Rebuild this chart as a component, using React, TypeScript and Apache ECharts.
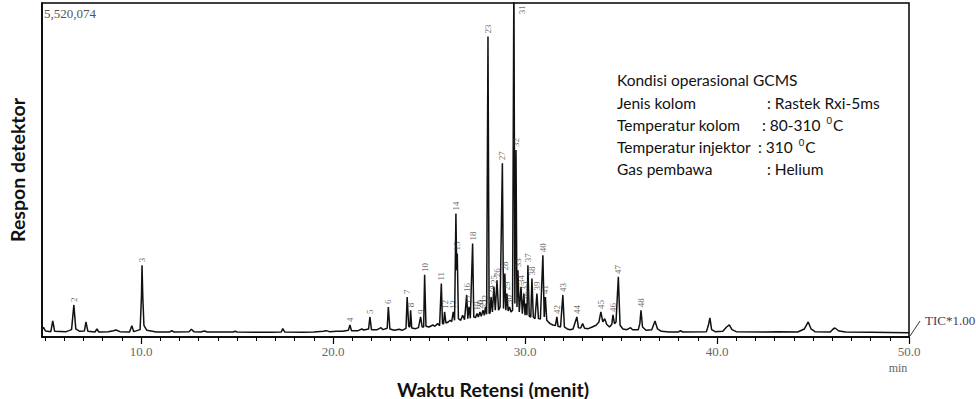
import React, { useEffect, useRef } from 'react';
import * as echarts from 'echarts';

// ---------- data ----------
const fullScaleCounts = '5,520,074';
const xMin = 4.84;
const xMax = 50;
const majorTicks = [10, 20, 30, 40, 50];
const minorTicks = [5, 6, 7, 8, 9, 10, 11, 12, 13, 14, 15, 16, 17, 18, 19, 20, 21, 22, 23, 24, 25, 26, 27, 28, 29, 30, 31, 32, 33, 34, 35, 36, 37, 38, 39, 40, 41, 42, 43, 44, 45, 46, 47, 48, 49, 50];

// TIC trace: [retention time (min), response (% of full scale 5,520,074)]
const traceEarly: [number, number][] = [
  [4.84, 2.2], [4.92, 2.9], [5.02, 1.8], [5.3, 1.6], [5.4, 4.8], [5.5, 1.7], [6.1, 1.6], [6.38, 2.2],
  [6.5, 9.6], [6.6, 2.4], [6.8, 1.7], [7.05, 1.8], [7.13, 4.5], [7.23, 1.7], [7.6, 1.5], [7.7, 2.4],
  [7.8, 1.5], [8.3, 1.6], [8.55, 1.9], [8.7, 2.1], [8.9, 1.6], [9.4, 1.5], [9.52, 3.4], [9.62, 1.6],
  [9.95, 2.2], [10.02, 12.0], [10.05, 21.5], [10.09, 12.0], [10.15, 3.5], [10.3, 2.0], [10.8, 1.5],
  [11.5, 1.5], [11.6, 1.9], [11.7, 1.5], [12.5, 1.6], [12.62, 2.3], [12.75, 1.6], [13.1, 1.5],
  [13.3, 1.8], [13.45, 1.5], [14.8, 1.5], [14.9, 1.7], [15.0, 1.5], [16.8, 1.4], [17.3, 1.5],
  [17.38, 2.5], [17.48, 1.5], [18.4, 1.4], [19.0, 1.5], [19.5, 1.7], [19.65, 1.9], [19.8, 1.6], [20.2, 1.7],
];
const traceMid: [number, number][] = [
  [20.5, 1.7], [20.8, 2.0], [20.88, 3.6], [20.96, 1.9], [21.3, 1.9], [21.5, 2.4], [21.6, 2.1],
  [21.85, 2.4], [21.92, 6.0], [22.0, 2.2], [22.3, 2.2], [22.5, 2.8], [22.6, 2.2], [22.82, 2.6],
  [22.88, 9.0], [22.96, 2.4], [23.2, 2.0], [23.45, 2.3], [23.6, 2.0], [23.8, 2.6], [23.86, 12.0],
  [23.94, 3.2], [24.0, 3.0], [24.04, 8.0], [24.1, 2.7], [24.3, 2.5], [24.45, 2.8], [24.56, 6.0],
  [24.64, 3.0], [24.72, 3.0], [24.77, 18.6], [24.84, 3.2], [25.0, 3.0], [25.2, 3.6], [25.3, 3.2],
  [25.45, 4.0], [25.55, 3.4], [25.64, 16.0], [25.7, 4.0], [25.76, 4.0], [25.81, 7.5], [25.88, 4.2],
  [26.0, 4.5], [26.1, 5.0], [26.18, 4.6], [26.26, 7.5], [26.33, 5.0], [26.4, 37.0], [26.44, 20.0],
  [26.47, 25.0], [26.53, 5.5], [26.65, 5.0], [26.75, 6.5], [26.85, 5.2], [26.96, 12.6], [27.02, 5.5],
  [27.08, 9.0], [27.15, 5.6], [27.27, 28.0], [27.33, 6.0], [27.42, 5.8], [27.5, 7.0], [27.57, 6.0],
  [27.65, 7.5], [27.72, 6.2], [27.81, 8.0], [27.88, 6.5], [27.94, 9.0], [28.0, 6.8], [28.07, 90.0],
  [28.13, 7.0], [28.18, 7.2], [28.23, 12.0], [28.3, 7.5], [28.38, 15.0], [28.45, 8.0], [28.54, 17.0],
  [28.62, 8.0], [28.7, 9.0], [28.82, 52.0], [28.88, 8.5], [28.95, 19.0], [29.0, 8.0], [29.06, 13.0],
  [29.12, 7.8], [29.19, 9.0], [29.27, 7.5], [29.35, 8.0], [29.42, 110.0], [29.47, 10.0], [29.53, 56.0],
  [29.58, 9.0], [29.63, 20.0], [29.7, 7.5], [29.79, 15.0], [29.86, 7.0], [29.94, 13.0], [30.0, 6.5],
  [30.05, 10.0], [30.1, 6.5], [30.15, 21.5], [30.22, 6.2], [30.3, 6.0], [30.36, 17.5], [30.43, 6.0],
  [30.52, 5.5], [30.62, 13.0], [30.7, 5.5], [30.8, 5.4], [30.93, 24.5], [31.0, 6.0], [31.06, 12.0],
];
const traceLate: [number, number][] = [
  [31.13, 5.0], [31.3, 4.0], [31.45, 3.6], [31.58, 3.4], [31.66, 6.0], [31.72, 3.2], [31.85, 3.0],
  [31.97, 12.6], [32.05, 3.0], [32.2, 2.4], [32.35, 2.2], [32.5, 2.4], [32.7, 6.0], [32.78, 2.8],
  [32.9, 2.7], [33.0, 4.0], [33.1, 2.6], [33.3, 2.5], [33.5, 3.0], [33.7, 3.5], [33.85, 4.5],
  [33.95, 7.5], [34.05, 4.5], [34.15, 5.5], [34.25, 3.8], [34.4, 3.0], [34.52, 3.8], [34.58, 6.6],
  [34.66, 4.0], [34.74, 4.5], [34.86, 18.0], [34.95, 3.5], [35.1, 2.4], [35.3, 2.2], [35.5, 2.8],
  [35.6, 2.2], [35.9, 2.2], [35.98, 4.0], [36.04, 8.0], [36.12, 3.0], [36.3, 2.0], [36.6, 2.2],
  [36.77, 4.8], [36.9, 2.4], [37.1, 1.7], [37.5, 1.5], [38.0, 1.5], [38.1, 1.9], [38.2, 1.5],
  [39.45, 1.6], [39.55, 3.5], [39.63, 5.7], [39.72, 2.2], [39.9, 1.6], [40.3, 1.7], [40.5, 3.0],
  [40.64, 3.6], [40.78, 2.2], [41.0, 1.6], [42.5, 1.5], [43.2, 1.6], [44.2, 1.5], [44.55, 2.4],
  [44.75, 4.5], [44.9, 2.4], [45.1, 1.6], [45.9, 1.5], [46.05, 2.4], [46.14, 2.7], [46.35, 1.8],
  [46.7, 1.5], [48.0, 1.4], [50.0, 1.3],
];

// numbered peaks
const peakNo = [2, 3, 4, 5, 6, 7, 8, 9, 10, 11, 12, 13, 14, 15, 16, 17, 18, 19, 20, 21, 22, 23, 24, 25,
  26, 27, 28, 29, 30, 31, 32, 33, 34, 35, 36, 37, 38, 39, 40, 41, 42, 43, 44, 45, 46, 47, 48];
const peakTime = [6.5, 10.05, 20.88, 21.92, 22.88, 23.86, 24.04, 24.56, 24.77, 25.64, 25.81, 26.26, 26.4,
  26.47, 26.96, 27.08, 27.27, 27.5, 27.65, 27.81, 27.94, 28.07, 28.23, 28.38, 28.54, 28.82, 28.95, 29.06,
  29.19, 29.42, 29.53, 29.63, 29.79, 29.94, 30.05, 30.15, 30.36, 30.62, 30.93, 31.06, 31.66, 31.97, 32.7,
  33.95, 34.58, 34.86, 36.04];
const peakHeight = [9.6, 21.5, 3.6, 6.0, 9.0, 12.0, 8.0, 6.0, 18.6, 16.0, 7.5, 7.5, 37.0, 25.0, 12.6, 9.0,
  28.0, 7.0, 7.5, 8.0, 9.0, 90.0, 12.0, 15.0, 17.0, 52.0, 19.0, 13.0, 9.0, 110.0, 56.0, 20.0, 15.0, 13.0,
  10.0, 21.5, 17.5, 13.0, 24.5, 12.0, 6.0, 12.6, 6.0, 7.5, 6.6, 18.0, 8.0];

const conditionsTitle = 'Kondisi operasional GCMS';
const conditionLabels = ['Jenis kolom', 'Temperatur kolom', 'Temperatur injektor', 'Gas pembawa'];
const conditionValues = [': Rastek Rxi-5ms', ': 80-310 {sup|0}C', ': 310 {sup|0}C', ': Helium'];

const xTitle = 'Waktu Retensi (menit)';
const yTitle = 'Respon detektor';
const ticLabel = 'TIC*1.00';
const xUnit = 'min';

export default function App() {
  const ref = useRef<HTMLDivElement>(null);

  useEffect(() => {
    if (!ref.current) return;
    const chart = echarts.init(ref.current, undefined, { renderer: 'svg' });

    const trace = [...traceEarly, ...traceMid, ...traceLate];

    const labelData = peakNo.map((n, i) => {
      const off = peakHeight[i] > 100;
      return {
        value: [peakTime[i], off ? 99.3 : peakHeight[i]],
        name: String(n),
        label: off
          ? { position: 'right', distance: 8, align: 'right', verticalAlign: 'middle' }
          : { position: 'top', distance: 3, align: 'left', verticalAlign: 'middle' },
      };
    });

    const serif = '"Liberation Serif", "DejaVu Serif", serif';
    const sans = 'Lato, "Open Sans", sans-serif';

    const lineY = [80, 102.5, 124.5, 146.5, 169];
    const valueX = [767, 762, 758, 767];

    const graphics: any[] = [
      { type: 'text', x: 44, y: 13, style: { text: fullScaleCounts, font: `13px ${serif}`, fill: '#555', verticalAlign: 'middle' } },
      { type: 'text', x: 617, y: lineY[0], style: { text: conditionsTitle, font: `15.5px ${sans}`, fill: '#111', verticalAlign: 'middle' } },
      ...conditionLabels.map((t, i) => ({
        type: 'text', x: 617, y: lineY[i + 1],
        style: { text: t, font: `15.5px ${sans}`, fill: '#111', verticalAlign: 'middle' },
      })),
      ...conditionValues.map((t, i) => ({
        type: 'text', x: valueX[i], y: lineY[i + 1],
        style: {
          text: t, font: `15.5px ${sans}`, fill: '#111', verticalAlign: 'middle',
          rich: { sup: { fontSize: 9.5, fontFamily: 'Lato', verticalAlign: 'top', padding: [0, 1, 8, 2] } },
        },
      })),
      { type: 'text', x: 17, y: 170, rotation: Math.PI / 2, style: { text: yTitle, font: `bold 19.5px ${sans}`, fill: '#111', align: 'center', verticalAlign: 'middle' } },
      { type: 'text', x: 493, y: 389, style: { text: xTitle, font: `bold 19.5px ${sans}`, fill: '#111', align: 'center', verticalAlign: 'middle' } },
      { type: 'text', x: 898, y: 368, style: { text: xUnit, font: `12px ${serif}`, fill: '#666', align: 'center', verticalAlign: 'middle' } },
      { type: 'line', shape: { x1: 910, y1: 336, x2: 920, y2: 321 }, style: { stroke: '#333', lineWidth: 1 } },
      { type: 'text', x: 925, y: 320, style: { text: ticLabel, font: `13px ${serif}`, fill: '#4a3b55', verticalAlign: 'middle' } },
    ];

    chart.setOption({
      animation: false,
      backgroundColor: '#fff',
      grid: {
        left: 42, right: 67, top: 3, bottom: 62,
        show: true, borderColor: '#000', borderWidth: 1.5,
        containLabel: false, outerBoundsMode: 'none',
      },
      xAxis: [
        {
          type: 'value', min: xMin, max: xMax, position: 'bottom',
          axisLine: { show: true, onZero: false, lineStyle: { color: '#000', width: 1.5 } },
          axisTick: { show: true, inside: false, length: 4, customValues: minorTicks, lineStyle: { color: '#000', width: 1 } },
          axisLabel: {
            show: true, customValues: majorTicks, margin: 8,
            formatter: (v: number) => v.toFixed(1),
            fontFamily: serif, fontSize: 13, color: '#666',
          },
          splitLine: { show: false },
        },
        {
          type: 'value', min: xMin, max: xMax, position: 'bottom',
          axisLine: { show: false },
          axisTick: { show: true, inside: false, length: 7, customValues: majorTicks, lineStyle: { color: '#000', width: 1.2 } },
          axisLabel: { show: false },
          splitLine: { show: false },
        },
      ],
      yAxis: {
        type: 'value', min: 0, max: 100,
        axisLine: { show: true, onZero: false, lineStyle: { color: '#000', width: 1.5 } },
        axisTick: { show: false }, axisLabel: { show: false }, splitLine: { show: false },
      },
      series: [
        {
          type: 'line', data: trace, showSymbol: false, symbol: 'none', clip: true, silent: true,
          lineStyle: { color: '#111', width: 1.5 },
        },
        {
          type: 'scatter', data: labelData, symbolSize: 0, silent: true,
          label: {
            show: true, formatter: '{b}', rotate: 90,
            fontFamily: serif, fontSize: 9, color: '#444',
          },
          labelLayout: { hideOverlap: false },
          z: 5,
        },
      ],
      graphic: graphics,
    });

    return () => chart.dispose();
  }, []);

  return <div ref={ref} style={{ position: 'fixed', left: 0, top: 0, width: 976, height: 399 }} />;
}
